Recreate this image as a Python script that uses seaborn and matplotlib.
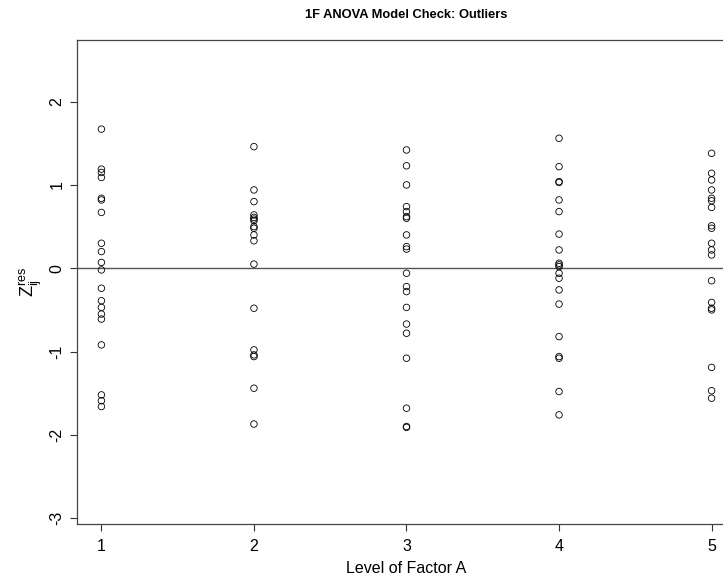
import pandas as pd
import seaborn as sns
import matplotlib.pyplot as plt

# standardized residuals, one list per level of factor A
level1 = [1.67, 1.19, 1.15, 1.09, 0.84, 0.82, 0.67, 0.30, 0.20, 0.07,
          -0.02, -0.24, -0.39, -0.47, -0.55, -0.61, -0.92, -1.52, -1.59, -1.66]
level2 = [1.46, 0.94, 0.80, 0.64, 0.61, 0.59, 0.57, 0.50, 0.48, 0.40,
          0.33, 0.05, -0.48, -0.98, -1.04, -1.06, -1.44, -1.87]
level3 = [1.42, 1.23, 1.00, 0.74, 0.68, 0.62, 0.60, 0.40, 0.26, 0.23,
          -0.06, -0.22, -0.28, -0.47, -0.67, -0.78, -1.08, -1.68, -1.90, -1.91]
level4 = [1.56, 1.22, 1.04, 1.03, 0.82, 0.68, 0.41, 0.22, 0.06, 0.04,
          0.02, -0.06, -0.12, -0.26, -0.43, -0.82, -1.06, -1.08, -1.48, -1.76]
level5 = [1.38, 1.14, 1.06, 0.94, 0.84, 0.81, 0.73, 0.51, 0.48, 0.30,
          0.22, 0.16, -0.15, -0.41, -0.48, -0.50, -1.19, -1.47, -1.56]

levels = [1, 2, 3, 4, 5]
y_ticks = [-3, -2, -1, 0, 1, 2]

rows = []
for lev, vals in zip(levels, [level1, level2, level3, level4, level5]):
    for v in vals:
        rows.append({"level": lev, "zres": v})
df = pd.DataFrame(rows)

sns.set_style("white")
plt.rcParams["font.family"] = ["Liberation Sans", "DejaVu Sans"]
plt.rcParams["mathtext.default"] = "regular"
plt.rcParams["text.color"] = "black"
plt.rcParams["axes.labelcolor"] = "black"
plt.rcParams["xtick.labelcolor"] = "black"
plt.rcParams["ytick.labelcolor"] = "black"

fig = plt.figure(figsize=(7.23, 5.78), dpi=100)
# plot region runs past the right edge, as in the reference
ax = fig.add_axes([77 / 723, 54 / 578, 659 / 723, 484 / 578])

ax.axhline(0, color="#555555", linewidth=1, zorder=1)
sns.scatterplot(data=df, x="level", y="zres", ax=ax, marker="o", s=22,
                facecolors="none", edgecolor="black", linewidth=0.6, zorder=3)

ax.set_xlim(0.84, 5.16)
ax.set_ylim(-3.07, 2.74)
ax.set_xticks(levels)
ax.set_yticks(y_ticks)
ax.set_yticklabels([str(t) for t in y_ticks], rotation=90, va="center")
ax.tick_params(axis="both", direction="out", length=5, width=0.8,
               labelsize=11.5, color="#333333", bottom=True, left=True)
ax.tick_params(axis="x", pad=6)
ax.tick_params(axis="y", pad=4)

for sp in ax.spines.values():
    sp.set_color("#444444")
    sp.set_linewidth(0.9)

ax.set_xlabel("Level of Factor A", fontsize=11.5, labelpad=5)
ax.set_ylabel(r"$Z_{ij}^{res}$", fontsize=13, labelpad=4)
fig.text(406 / 723, 1 - 15 / 578, "1F ANOVA Model Check: Outliers",
         ha="center", va="center", fontsize=9.3, fontweight="bold")

fig.savefig("out.png", dpi=100)
